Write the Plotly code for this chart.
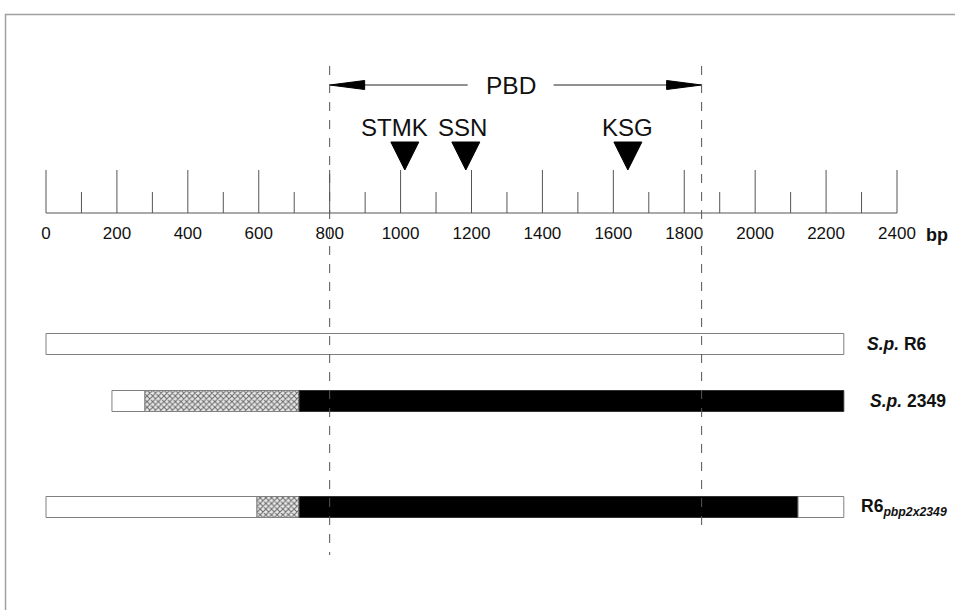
import plotly.graph_objects as go

# ---------------- data ----------------
ruler_max = 2400
major_ticks = list(range(0, 2401, 200))
minor_ticks = list(range(100, 2400, 200))
tick_labels = [str(v) for v in major_ticks]

pbd_start, pbd_end = 800, 1849
motif_names = ["STMK", "SSN", "KSG"]
motif_pos = [1012, 1184, 1641]
motif_label_shift = [-10, -3, 0]

strains = ["<b><i>S.p.</i> R6</b>", "<b><i>S.p.</i> 2349</b>", "<b>R6<sub><i>pbp2x2349</i></sub></b>"]
strain_label_px = [865, 868, 859]
# segments per strain: (start, end, kind)
segments = [
    [(0, 2250, "white")],
    [(186, 279, "white"), (279, 714, "hatch"), (714, 2250, "black")],
    [(0, 595, "white"), (595, 714, "hatch"), (714, 2121, "black"), (2121, 2250, "white")],
]

# ---------------- layout helpers (pixel geometry) ----------------
W, H = 955, 610
X0PX = 46.0
PXPERBP = 851.0 / 2400.0
def bp(px):
    return (px - X0PX) / PXPERBP

row_y = [344, 401, 507]
bar_h = 21
base_y, major_top, minor_top = 213, 170, 192
label_y = 235
font = "Arial, Liberation Sans, sans-serif"
lc = "#555555"

fig = go.Figure()

# ruler
xs, ys = [0, ruler_max, None], [base_y, base_y, None]
for t in major_ticks:
    xs += [t, t, None]; ys += [base_y, major_top, None]
for t in minor_ticks:
    xs += [t, t, None]; ys += [base_y, minor_top, None]
fig.add_trace(go.Scatter(x=xs, y=ys, mode="lines", line=dict(color=lc, width=1),
                         hoverinfo="skip", showlegend=False))
fig.add_trace(go.Scatter(x=major_ticks, y=[label_y] * len(major_ticks), mode="text",
                         text=tick_labels, textfont=dict(family=font, size=17, color="#111"),
                         hoverinfo="skip", showlegend=False))
fig.add_annotation(x=bp(937), y=label_y, text="<b>bp</b>", showarrow=False,
                   font=dict(family=font, size=18, color="#111"))

# bars
styles = {
    "white": dict(color="white", line=dict(color="#808080", width=1)),
    "black": dict(color="black", line=dict(color="#333", width=1)),
    "hatch": dict(color="#9a9a9a", line=dict(color="#808080", width=1),
                  pattern=dict(shape="x", fgcolor="#6a6a6a", bgcolor="#e8e8e8",
                               size=4, solidity=0.45, fillmode="replace")),
}
for yi, segs in zip(row_y, segments):
    for s, e, kind in segs:
        fig.add_trace(go.Bar(x=[e - s], base=[s], y=[yi], orientation="h", width=bar_h,
                             marker=styles[kind], hoverinfo="skip", showlegend=False))

for yi, lab, xpx in zip(row_y, strains, strain_label_px):
    fig.add_annotation(x=bp(xpx), y=yi, text=lab, showarrow=False, xanchor="left",
                       font=dict(family=font, size=17.5, color="#111"))

# dashed PBD boundaries
fig.add_shape(type="line", x0=pbd_start, x1=pbd_start, y0=66, y1=555,
              line=dict(color=lc, width=1, dash="dash"))
fig.add_shape(type="line", x0=pbd_end, x1=pbd_end, y0=66, y1=530,
              line=dict(color=lc, width=1, dash="dash"))

# PBD arrow
arrow_y = 85
head_len = 35 / PXPERBP
head_half = 4.5
mid = (pbd_start + pbd_end) / 2 - 5 / PXPERBP
gap = 43 / PXPERBP
fig.add_trace(go.Scatter(x=[pbd_start + head_len, mid - gap, None, mid + gap, pbd_end - head_len],
                         y=[arrow_y, arrow_y, None, arrow_y, arrow_y], mode="lines",
                         line=dict(color="#222", width=1), hoverinfo="skip", showlegend=False))
for tip, back in [(pbd_start, pbd_start + head_len), (pbd_end, pbd_end - head_len)]:
    fig.add_trace(go.Scatter(x=[tip, back, back, tip], y=[arrow_y, arrow_y - head_half, arrow_y + head_half, arrow_y],
                             mode="lines", fill="toself", fillcolor="black",
                             line=dict(color="black", width=1), hoverinfo="skip", showlegend=False))
fig.add_annotation(x=mid, y=arrow_y, text="PBD", showarrow=False,
                   font=dict(family=font, size=24.5, color="#111"))

# motif triangles
tri_half = 14 / PXPERBP
tri_top, tri_tip = 142, 170
for name, pos, sh in zip(motif_names, motif_pos, motif_label_shift):
    fig.add_trace(go.Scatter(x=[pos - tri_half, pos + tri_half, pos, pos - tri_half],
                             y=[tri_top, tri_top, tri_tip, tri_top], mode="lines",
                             fill="toself", fillcolor="black", line=dict(color="black", width=1),
                             hoverinfo="skip", showlegend=False))
    fig.add_annotation(x=pos, y=127, text=name, showarrow=False, xshift=sh,
                       font=dict(family=font, size=24, color="#111"))

# frame
fig.add_shape(type="rect", xref="paper", yref="paper", x0=5.5 / W, x1=1.2,
              y0=-0.2, y1=1 - 14.5 / H, line=dict(color="#a0a0a0", width=1.5))

fig.update_layout(
    width=W, height=H, margin=dict(l=0, r=0, t=0, b=0),
    paper_bgcolor="white", plot_bgcolor="white", barmode="overlay",
    xaxis=dict(range=[bp(0), bp(W)], visible=False, fixedrange=True),
    yaxis=dict(range=[H, 0], visible=False, fixedrange=True),
)
fig.write_html("out.html")
